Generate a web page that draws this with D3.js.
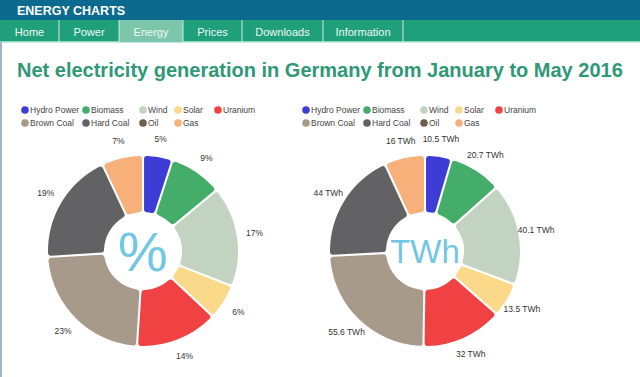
<!DOCTYPE html>
<html>
<head>
<meta charset="utf-8">
<script src="https://cdn.jsdelivr.net/npm/d3@7"></script>
<style>
  body { margin: 0; background: #fff; font-family: Arial, "Liberation Sans", sans-serif; }
</style>
</head>
<body>
<script>
// data
const sources = ["Hydro Power", "Biomass", "Wind", "Solar", "Uranium", "Brown Coal", "Hard Coal", "Oil", "Gas"];
const colors = ["#3d3dd6", "#45ad6a", "#c3d3c1", "#fbd98b", "#f04242", "#a89a8b", "#626164", "#6e5d4c", "#f7b07a"];
const twh = [10.5, 20.7, 40.1, 13.5, 32, 55.6, 44, 0, 16];
const pct = [5, 9, 17, 6, 14, 23, 19, 0, 7];
const navItems = ["Home", "Power", "Energy", "Prices", "Downloads", "Information"];
const navEdges = [0, 59, 119, 183, 242, 323, 403];

const W = 640, H = 377;
const svg = d3.select("body").append("svg")
  .attr("width", W).attr("height", H)
  .style("font-family", "Arial, 'Liberation Sans', sans-serif");

// header bars
svg.append("rect").attr("width", W).attr("height", 20).attr("fill", "#0b6a8e");
svg.append("text").attr("x", 17).attr("y", 15)
  .attr("fill", "#fff").attr("font-size", 12.5).attr("font-weight", "bold")
  .text("ENERGY CHARTS");
svg.append("rect").attr("y", 20).attr("width", W).attr("height", 22).attr("fill", "#20a07a");
svg.append("rect").attr("y", 41).attr("width", W).attr("height", 1.5).attr("fill", "#8fd8c0");

const nav = svg.append("g");
navItems.forEach((name, i) => {
  const x0 = navEdges[i], x1 = navEdges[i + 1];
  if (name === "Energy") {
    nav.append("rect").attr("x", x0).attr("y", 20).attr("width", x1 - x0).attr("height", 22).attr("fill", "#7cc6ac");
  }
  nav.append("text").attr("x", (x0 + x1) / 2).attr("y", 35.5)
    .attr("text-anchor", "middle").attr("fill", "#eef8f4").attr("font-size", 11)
    .text(name);
});
navEdges.slice(1).forEach(x => {
  nav.append("line").attr("x1", x).attr("x2", x).attr("y1", 20).attr("y2", 42)
    .attr("stroke", "#c9ece0").attr("stroke-width", 1);
});

// left page border
svg.append("rect").attr("x", 0).attr("y", 42).attr("width", 2).attr("height", H - 42).attr("fill", "#9fb4c4");

// title
svg.append("text").attr("x", 17).attr("y", 77)
  .attr("fill", "#2f9877").attr("font-size", 20).attr("font-weight", "bold")
  .text("Net electricity generation in Germany from January to May 2016");

function legend(x, y) {
  const g = svg.append("g").attr("transform", `translate(${x},${y})`);
  const cols = [0, 61, 118, 153, 193];
  sources.forEach((s, i) => {
    const row = i < 5 ? 0 : 1;
    const col = i < 5 ? i : i - 5;
    const item = g.append("g").attr("transform", `translate(${cols[col]},${row * 13})`);
    item.append("circle").attr("r", 3.8).attr("fill", colors[i]);
    item.append("text").attr("x", 5).attr("y", 3.2).attr("font-size", 8.5).attr("fill", "#444").text(s);
  });
}
legend(25, 110);
legend(306, 110);

const pie = d3.pie().sort(null).value(d => d.v);
const rOut = 95, rIn = 39;
const arc = d3.arc().innerRadius(rIn).outerRadius(rOut)
  .padAngle(0.035).padRadius(60).cornerRadius(3);
const labelArc = d3.arc().innerRadius(113).outerRadius(113);

function donut(cx, cy, values, fmt, centerText, centerSize) {
  const g = svg.append("g").attr("transform", `translate(${cx},${cy})`);
  const data = pie(values.map((v, i) => ({ v, i })));
  g.selectAll("path").data(data).join("path")
    .attr("d", arc).attr("fill", d => colors[d.data.i]);
  g.selectAll("text.lbl").data(data.filter(d => d.data.v > 0)).join("text")
    .attr("class", "lbl")
    .attr("transform", d => `translate(${labelArc.centroid(d)})`)
    .attr("text-anchor", "middle").attr("dy", "0.35em")
    .attr("font-size", 8.5).attr("fill", "#333")
    .text(d => fmt(d.data.v));
  g.append("text").attr("text-anchor", "middle").attr("dy", "0.36em")
    .attr("font-size", centerSize).attr("fill", "#72c8e4")
    .text(centerText);
}
donut(143, 251, pct, v => v + "%", "%", 56);
donut(425, 251, twh, v => v + " TWh", "TWh", 33);
</script>
</body>
</html>
